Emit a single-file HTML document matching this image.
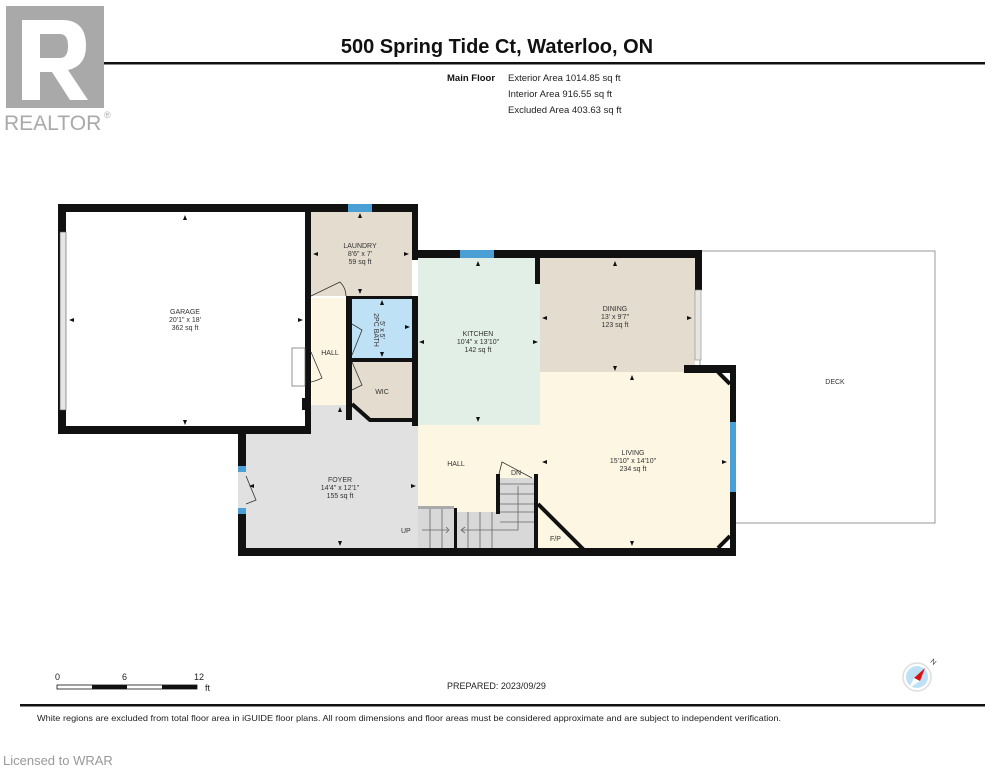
<!DOCTYPE html>
<html><head><meta charset="utf-8"><style>
html,body{margin:0;padding:0;background:#fff;}
svg{display:block;font-family:"Liberation Sans",Arial,sans-serif;}
</style></head><body>
<svg width="994" height="768" viewBox="0 0 994 768" xmlns="http://www.w3.org/2000/svg">
<defs>
<path id="au" d="M-2 2 L0 -3 L2 2 Z" fill="#111"/>
</defs>
<rect width="994" height="768" fill="#fff"/>
<rect x="27" y="62" width="958" height="2.5" fill="#111"/>
<rect x="6" y="6" width="98" height="102" fill="#a9a9a9"/>
<path d="M22 20 H62 Q86 20 86 46 Q86 66 68 70 L88 100 H70 L52 72 H40 V100 H22 Z M40 34 V58 H60 Q68 58 68 46 Q68 34 60 34 Z" fill="#fff"/>
<text x="4" y="130" font-size="21" fill="#a9a9a9">REALTOR</text>
<text x="104" y="118" font-size="9" fill="#a9a9a9">®</text>
<text x="497" y="53" font-size="20" font-weight="bold" text-anchor="middle" fill="#111">500 Spring Tide Ct, Waterloo, ON</text>
<text x="447" y="81" font-size="9.5" font-weight="bold" fill="#111">Main Floor</text>
<g font-size="9.5" fill="#222"><text x="508" y="81">Exterior Area 1014.85 sq ft</text><text x="508" y="97">Interior Area 916.55 sq ft</text><text x="508" y="113">Excluded Area 403.63 sq ft</text></g>

<rect x="700" y="251" width="235" height="272" fill="#fff" stroke="#999" stroke-width="1"/>
<text x="835" y="384" font-size="7" text-anchor="middle" fill="#333">DECK</text>

<rect x="310" y="212" width="102" height="84" fill="#e4dccf"/>
<rect x="418" y="258" width="122" height="167" fill="#e2efe6"/>
<rect x="540" y="258" width="155" height="114" fill="#e4dccf"/>
<path d="M540 372 H718 L730 384 V536 L718 548 H540 Z" fill="#fdf6e3"/>
<rect x="418" y="425" width="122" height="123" fill="#fdf6e3"/>
<rect x="311" y="405" width="107" height="30" fill="#e1e1e1"/>
<rect x="245" y="430" width="173" height="118" fill="#e1e1e1"/>
<rect x="312" y="298" width="35" height="107" fill="#fdf6e3"/>
<rect x="352" y="298" width="60" height="60" fill="#bfe1f6"/>
<path d="M352 362 H412 V420 H370 L352 404 Z" fill="#e4dccf"/>
<rect x="418" y="508" width="36" height="40" fill="#d8d8d8"/>
<rect x="418" y="506" width="36" height="3" fill="#aaa"/>
<path d="M456 512 H498 V478 H536 V548 H456 Z" fill="#d8d8d8"/>
<g stroke="#666" stroke-width="0.8" fill="none">
<path d="M430 509 V548 M442 509 V548 M468 512 V548 M480 512 V548 M492 512 V548 M500 484 H534 M500 494 H534 M500 504 H534 M500 512 H534 M500 522 H534"/>
<path d="M422 530 H448 M446 527 L449 530 L446 533 M518 486 V530 H462 M465 527 L461 530 L465 533"/>
</g>
<text x="401" y="533" font-size="7" fill="#333">UP</text>
<text x="511" y="475" font-size="7" fill="#333">DN</text>
<path d="M498 478 L502 462 L532 478" fill="none" stroke="#333" stroke-width="0.8"/>
<text x="550" y="541" font-size="7" fill="#333">F/P</text>

<g fill="#111">
<rect x="58" y="204" width="360" height="8"/>
<rect x="58" y="204" width="8" height="230"/>
<rect x="58" y="426" width="253" height="8"/>
<rect x="305" y="204" width="6" height="230"/>
<rect x="412" y="204" width="6" height="56"/>
<rect x="412" y="250" width="290" height="8"/>
<rect x="695" y="250" width="7" height="40"/>
<rect x="684" y="365" width="52" height="8"/>
<rect x="730" y="365" width="6" height="191"/>
<rect x="238" y="426" width="8" height="130"/>
<rect x="238" y="548" width="498" height="8"/>
<rect x="535" y="258" width="5" height="26"/>
<rect x="346" y="296" width="6" height="124"/>
<rect x="346" y="296" width="72" height="3"/>
<rect x="412" y="296" width="6" height="130"/>
<rect x="346" y="358" width="70" height="4"/>
<rect x="454" y="508" width="3" height="42"/>
<rect x="496" y="474" width="4" height="40"/>
<rect x="534" y="474" width="4" height="76"/>
<rect x="302" y="398" width="6" height="12"/>
</g>
<path d="M352 404 L370 420 H412" stroke="#111" stroke-width="4" fill="none"/>
<path d="M718 372 L730 384 M718 548 L730 536" stroke="#111" stroke-width="4"/>
<path d="M538 504 L584 550" stroke="#111" stroke-width="4"/>
<g fill="#4a9fd5">
<rect x="348" y="204" width="24" height="8"/>
<rect x="460" y="250" width="34" height="8"/>
<rect x="730" y="422" width="6" height="70"/>
<rect x="238" y="466" width="8" height="6"/>
<rect x="238" y="508" width="8" height="6"/>
</g>
<rect x="60" y="232" width="6" height="178" fill="#e6e6e6" stroke="#555" stroke-width="0.6"/>
<rect x="695" y="290" width="6" height="70" fill="#e6e6e6" stroke="#888" stroke-width="0.6"/>
<rect x="238" y="472" width="8" height="36" fill="#e1e1e1"/>
<rect x="292" y="348" width="13" height="38" fill="#fff" stroke="#666" stroke-width="0.7"/>
<g stroke="#333" stroke-width="0.8" fill="none">
<path d="M311 296 L340 282 Q346 288 346 296"/>
<path d="M311 352 L322 378 Q316 381 311 382"/>
<path d="M352 324 L362 330 L352 355"/>
<path d="M352 362 L362 385 L352 390"/>
<path d="M246 476 L256 500 L246 504"/>
</g>
<!-- dimension arrows -->
<g>
<use href="#au" transform="translate(185,218)"/><use href="#au" transform="translate(185,422) rotate(180)"/>
<use href="#au" transform="translate(72,320) rotate(-90)"/><use href="#au" transform="translate(300,320) rotate(90)"/>
<use href="#au" transform="translate(360,216)"/><use href="#au" transform="translate(360,291) rotate(180)"/>
<use href="#au" transform="translate(316,254) rotate(-90)"/><use href="#au" transform="translate(406,254) rotate(90)"/>
<use href="#au" transform="translate(478,264)"/><use href="#au" transform="translate(478,419) rotate(180)"/>
<use href="#au" transform="translate(422,342) rotate(-90)"/><use href="#au" transform="translate(535,342) rotate(90)"/>
<use href="#au" transform="translate(615,264)"/><use href="#au" transform="translate(615,368) rotate(180)"/>
<use href="#au" transform="translate(545,318) rotate(-90)"/><use href="#au" transform="translate(689,318) rotate(90)"/>
<use href="#au" transform="translate(632,378)"/><use href="#au" transform="translate(632,543) rotate(180)"/>
<use href="#au" transform="translate(545,462) rotate(-90)"/><use href="#au" transform="translate(724,462) rotate(90)"/>
<use href="#au" transform="translate(340,410)"/><use href="#au" transform="translate(340,543) rotate(180)"/>
<use href="#au" transform="translate(252,486) rotate(-90)"/><use href="#au" transform="translate(413,486) rotate(90)"/>
<use href="#au" transform="translate(382,303)"/><use href="#au" transform="translate(382,354) rotate(180)"/>
<use href="#au" transform="translate(407,327) rotate(90)"/>
</g>
<g font-size="7" fill="#333" text-anchor="middle">
<text x="185" y="314">GARAGE</text><text x="185" y="322">20'1" x 18'</text><text x="185" y="330">362 sq ft</text>
<text x="360" y="248">LAUNDRY</text><text x="360" y="256">8'6" x 7'</text><text x="360" y="264">59 sq ft</text>
<text x="478" y="336">KITCHEN</text><text x="478" y="344">10'4" x 13'10"</text><text x="478" y="352">142 sq ft</text>
<text x="615" y="311">DINING</text><text x="615" y="319">13' x 9'7"</text><text x="615" y="327">123 sq ft</text>
<text x="633" y="455">LIVING</text><text x="633" y="463">15'10" x 14'10"</text><text x="633" y="471">234 sq ft</text>
<text x="340" y="482">FOYER</text><text x="340" y="490">14'4" x 12'1"</text><text x="340" y="498">155 sq ft</text>
<text x="330" y="355">HALL</text>
<text x="456" y="466">HALL</text>
<text x="382" y="394">WIC</text>
<text x="374" y="330" transform="rotate(90 374 330)">2PC BATH</text>
<text x="380" y="330" transform="rotate(90 380 330)">5' x 5'</text>
</g>
<g font-size="9" fill="#222">
<text x="55" y="680">0</text><text x="122" y="680">6</text><text x="194" y="680">12</text><text x="205" y="691">ft</text>
<text x="447" y="689">PREPARED: 2023/09/29</text>
</g>
<rect x="57" y="685" width="140" height="4" fill="#fff" stroke="#111" stroke-width="0.8"/>
<rect x="92" y="685" width="35" height="4" fill="#111"/>
<rect x="162" y="685" width="35" height="4" fill="#111"/>
<circle cx="917" cy="677" r="14" fill="#fff" stroke="#ddd" stroke-width="1.5"/>
<circle cx="917" cy="677" r="11" fill="#bfe1f6"/>
<path d="M925 668 L914 678 L920 681 Z" fill="#d11"/>
<path d="M914 678 L920 681 L909 688 Z" fill="#fff"/>
<text x="930" y="662" font-size="7" fill="#333" transform="rotate(40 930 662)">N</text>
<rect x="20" y="704" width="965" height="2.5" fill="#111"/>
<text x="37" y="721" font-size="8.3" fill="#222" textLength="744" lengthAdjust="spacingAndGlyphs">White regions are excluded from total floor area in iGUIDE floor plans. All room dimensions and floor areas must be considered approximate and are subject to independent verification.</text>
<text x="3" y="765" font-size="13" fill="#999">Licensed to WRAR</text>
</svg>
</body></html>
